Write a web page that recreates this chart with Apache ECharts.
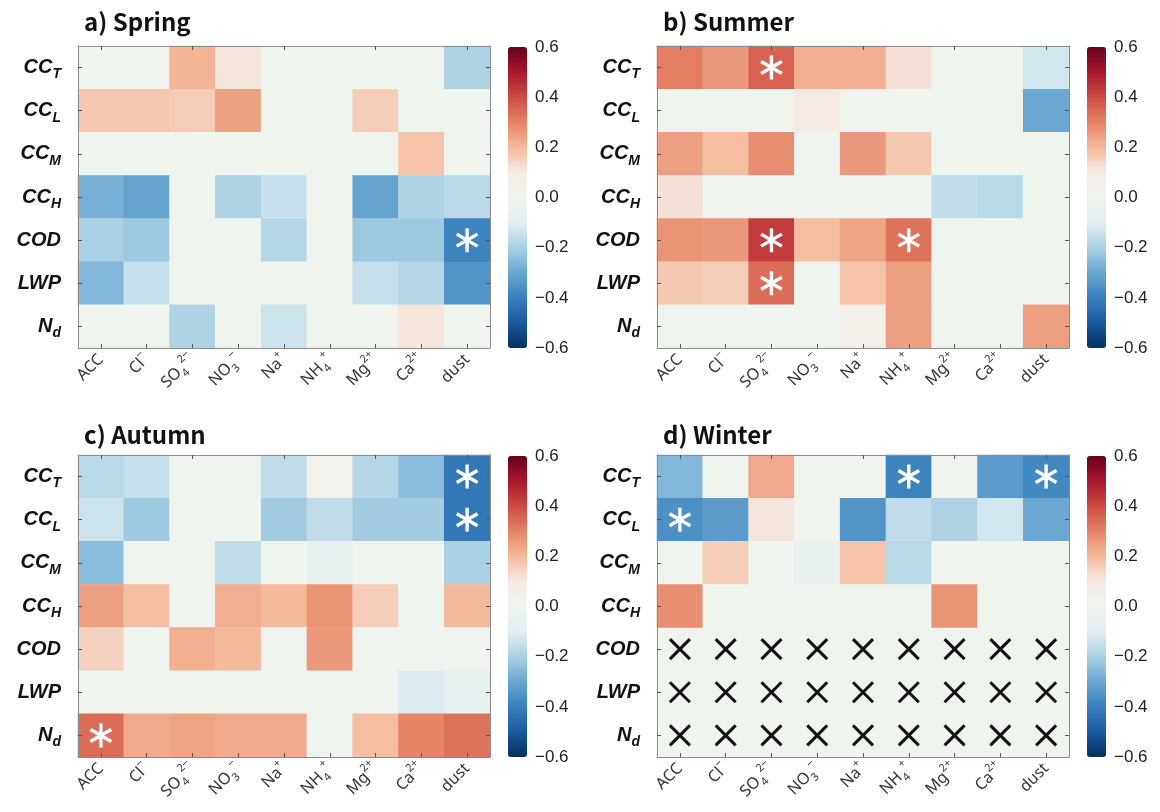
<!DOCTYPE html>
<html>
<head>
<meta charset="utf-8">
<script src="https://cdn.jsdelivr.net/npm/echarts@6/dist/echarts.min.js"></script>
<style>
  html, body { margin: 0; padding: 0; background: #fff; }
  #chart { width: 1160px; height: 812px; }
</style>
</head>
<body>
<div id="chart"></div>
<script>
// Column (aerosol species) and row (cloud property) labels.
// Markup: "_x" = subscript, "^x" = superscript.
const colLabels = ['ACC', 'Cl^−', 'SO_4^2−', 'NO_3^−', 'Na^+', 'NH_4^+', 'Mg^2+', 'Ca^2+', 'dust'];
const rowLabels = ['CC_T', 'CC_L', 'CC_M', 'CC_H', 'COD', 'LWP', 'N_d'];
const cbarTicks = [-0.6, -0.4, -0.2, 0.0, 0.2, 0.4, 0.6];

// Correlation coefficients, one row per cloud property (top to bottom),
// one column per species (left to right). null = not available.
const spring = [
  [0.00, 0.00, 0.21, 0.11, 0.00, 0.00, 0.00, 0.00, -0.19],
  [0.17, 0.17, 0.16, 0.25, 0.00, 0.00, 0.16, 0.00, 0.00],
  [0.00, 0.00, 0.00, 0.00, 0.00, 0.00, 0.00, 0.18, 0.00],
  [-0.28, -0.31, 0.00, -0.19, -0.15, 0.00, -0.31, -0.19, -0.17],
  [-0.20, -0.22, 0.00, 0.00, -0.18, 0.00, -0.22, -0.22, -0.39],
  [-0.26, -0.15, 0.00, 0.00, 0.00, 0.00, -0.15, -0.18, -0.35],
  [0.00, 0.00, -0.19, 0.00, -0.14, 0.00, 0.00, 0.11, 0.00]
];
const summer = [
  [0.31, 0.26, 0.36, 0.22, 0.22, 0.12, 0.00, 0.00, -0.13],
  [0.00, 0.00, 0.00, 0.10, 0.00, 0.00, 0.00, 0.00, -0.30],
  [0.25, 0.19, 0.28, 0.00, 0.26, 0.17, 0.00, 0.00, 0.00],
  [0.12, 0.00, 0.00, 0.00, 0.00, 0.00, -0.16, -0.17, 0.00],
  [0.27, 0.26, 0.43, 0.19, 0.24, 0.33, 0.00, 0.00, 0.00],
  [0.17, 0.16, 0.34, 0.00, 0.18, 0.25, 0.00, 0.00, 0.00],
  [0.00, 0.00, 0.00, 0.00, 0.05, 0.25, 0.00, 0.00, 0.25]
];
const autumn = [
  [-0.17, -0.15, 0.00, 0.00, -0.16, 0.03, -0.18, -0.25, -0.42],
  [-0.14, -0.22, 0.00, 0.00, -0.21, -0.16, -0.21, -0.21, -0.42],
  [-0.25, 0.00, 0.00, -0.16, 0.00, -0.06, 0.00, 0.00, -0.20],
  [0.25, 0.19, 0.00, 0.22, 0.20, 0.27, 0.16, 0.00, 0.20],
  [0.15, 0.00, 0.22, 0.20, 0.00, 0.26, 0.00, 0.00, 0.00],
  [0.00, 0.00, 0.00, 0.00, 0.00, 0.00, 0.00, -0.11, -0.07],
  [0.34, 0.23, 0.24, 0.23, 0.23, 0.00, 0.19, 0.30, 0.33]
];
const winter = [
  [-0.26, 0.00, 0.23, 0.00, 0.00, -0.39, 0.00, -0.33, -0.38],
  [-0.36, -0.33, 0.11, 0.00, -0.35, -0.16, -0.19, -0.13, -0.30],
  [0.00, 0.16, 0.00, -0.06, 0.18, -0.17, 0.00, 0.00, 0.00],
  [0.28, 0.00, 0.00, 0.00, 0.00, 0.00, 0.27, 0.00, 0.00],
  [null, null, null, null, null, null, null, null, null],
  [null, null, null, null, null, null, null, null, null],
  [null, null, null, null, null, null, null, null, null]
];

// Significant correlations, as [column, row] indices.
const springStars = [[8, 4]];
const summerStars = [[2, 0], [2, 4], [5, 4], [2, 5]];
const autumnStars = [[8, 0], [8, 1], [0, 6]];
const winterStars = [[5, 0], [8, 0], [0, 1]];

const panels = [
  { title: 'a) Spring', values: spring, stars: springStars, left: 78, top: 46 },
  { title: 'b) Summer', values: summer, stars: summerStars, left: 657, top: 46 },
  { title: 'c) Autumn', values: autumn, stars: autumnStars, left: 78, top: 455 },
  { title: 'd) Winter', values: winter, stars: winterStars, left: 657, top: 455 }
];

// Diverging palette, evenly spaced from -0.6 to 0.6.
const palette = ['#053061', '#1a5a9e', '#3880bd', '#6aa7d1', '#a9d0e4', '#e3eff1', '#f0f4ee',
                 '#f5ebe4', '#f5b99c', '#e58466', '#cd4b44', '#a8172d', '#67001f'];

const PW = 412, PH = 302;
const AXIS_GRAY = '#8c8c8c';

function richLabel(s, base) {
  return s.split(/(?=[_^])/).map(p => {
    if (p[0] === '_') return '{' + base + 'Sub|' + p.slice(1) + '}';
    if (p[0] === '^') return '{' + base + 'Sup|' + p.slice(1) + '}';
    return '{' + base + '|' + p + '}';
  }).join('');
}

const xRich = {
  x: { fontSize: 16, color: '#333', fontFamily: 'Noto Sans', lineHeight: 24 },
  xSup: { fontSize: 11, color: '#333', fontFamily: 'Noto Sans', verticalAlign: 'top', lineHeight: 11 },
  xSub: { fontSize: 11, color: '#333', fontFamily: 'Noto Sans', verticalAlign: 'bottom', lineHeight: 11 }
};
const yRich = {
  y: { fontSize: 20, fontWeight: 'bold', fontStyle: 'italic', color: '#111', fontFamily: 'Liberation Sans', lineHeight: 28 },
  ySub: { fontSize: 14, fontWeight: 'bold', fontStyle: 'italic', color: '#111', fontFamily: 'Liberation Sans', verticalAlign: 'bottom', lineHeight: 15 }
};

const asteriskPath = 'path://M0,-10L0,10M-8.66,-5L8.66,5M-8.66,5L8.66,-5';
const crossPath = 'path://M-10,-10L10,10M-10,10L10,-10';

const option = {
  backgroundColor: '#ffffff',
  animation: false,
  title: [], grid: [], xAxis: [], yAxis: [], series: [], visualMap: []
};

panels.forEach((p, i) => {
  // Heatmap panel
  const g = option.grid.length;
  option.grid.push({ left: p.left, top: p.top, width: PW, height: PH, show: true,
    backgroundColor: palette[6], borderWidth: 0 });

  const tickStyle = { show: true, inside: true, length: 4, alignWithLabel: true, lineStyle: { color: '#555' } };
  const lineStyle = { show: true, lineStyle: { color: AXIS_GRAY, width: 1 } };

  const xb = option.xAxis.length;
  option.xAxis.push({ type: 'category', gridIndex: g, data: colLabels, position: 'bottom', z: 10,
    axisLine: lineStyle, axisTick: tickStyle, splitLine: { show: false },
    axisLabel: { rotate: 45, margin: 9, interval: 0, formatter: v => richLabel(v, 'x'), rich: xRich } });
  option.xAxis.push({ type: 'category', gridIndex: g, data: colLabels, position: 'top', z: 10,
    axisLine: lineStyle, axisTick: tickStyle, axisLabel: { show: false }, splitLine: { show: false } });

  const yl = option.yAxis.length;
  option.yAxis.push({ type: 'category', gridIndex: g, data: rowLabels, inverse: true, position: 'left', z: 10,
    axisLine: lineStyle, axisTick: tickStyle, splitLine: { show: false },
    axisLabel: { margin: 17, interval: 0, formatter: v => richLabel(v, 'y'), rich: yRich } });
  option.yAxis.push({ type: 'category', gridIndex: g, data: rowLabels, inverse: true, position: 'right', z: 10,
    axisLine: lineStyle, axisTick: tickStyle, axisLabel: { show: false }, splitLine: { show: false } });

  const cells = [], crosses = [];
  p.values.forEach((row, r) => row.forEach((v, c) => {
    if (v === null) crosses.push([c, r]); else cells.push([c, r, v]);
  }));

  const hs = option.series.length;
  option.series.push({ type: 'heatmap', xAxisIndex: xb, yAxisIndex: yl, data: cells,
    itemStyle: { borderWidth: 0 }, emphasis: { disabled: true }, z: 2 });
  option.series.push({ type: 'scatter', xAxisIndex: xb, yAxisIndex: yl, data: p.stars,
    symbol: asteriskPath, symbolSize: 24, symbolKeepAspect: true, z: 12, silent: true,
    itemStyle: { color: 'rgba(0,0,0,0)', borderColor: '#ffffff', borderWidth: 3.4, opacity: 1 } });
  option.series.push({ type: 'scatter', xAxisIndex: xb, yAxisIndex: yl, data: crosses,
    symbol: crossPath, symbolSize: 20, symbolKeepAspect: true, z: 12, silent: true,
    itemStyle: { color: 'rgba(0,0,0,0)', borderColor: '#111111', borderWidth: 3, opacity: 1 } });

  // Colour bar
  const cbLeft = p.left + 430, cbTop = p.top + 1, cbH = PH - 1;
  option.visualMap.push({ type: 'continuous', seriesIndex: hs, dimension: 2, min: -0.6, max: 0.6,
    orient: 'vertical', left: cbLeft, top: cbTop, itemWidth: 19, itemHeight: cbH, padding: 0,
    calculable: false, text: null, showLabel: false, inRange: { color: palette } });

  const cg = option.grid.length;
  option.grid.push({ left: cbLeft, top: cbTop, width: 19, height: cbH });
  option.xAxis.push({ type: 'category', gridIndex: cg, data: [''], show: false });
  option.yAxis.push({ type: 'value', gridIndex: cg, position: 'right',
    min: cbarTicks[0], max: cbarTicks[cbarTicks.length - 1], interval: 0.2,
    axisLine: { show: false }, axisTick: { show: false }, splitLine: { show: false },
    axisLabel: { margin: 8, fontSize: 17, color: '#222', fontFamily: 'Liberation Sans',
      formatter: v => (Math.abs(v) < 1e-9 ? '0.0' : v.toFixed(1).replace('-', '−')) } });

  option.title.push({ text: p.title, left: p.left + 1, top: p.top - (i < 2 ? 41 : 37),
    textStyle: { fontSize: 24, fontWeight: 'bold', color: '#111', fontFamily: 'Noto Sans CJK JP' } });
});

const chart = echarts.init(document.getElementById('chart'), null, { renderer: 'canvas' });
chart.setOption(option);
</script>
</body>
</html>
